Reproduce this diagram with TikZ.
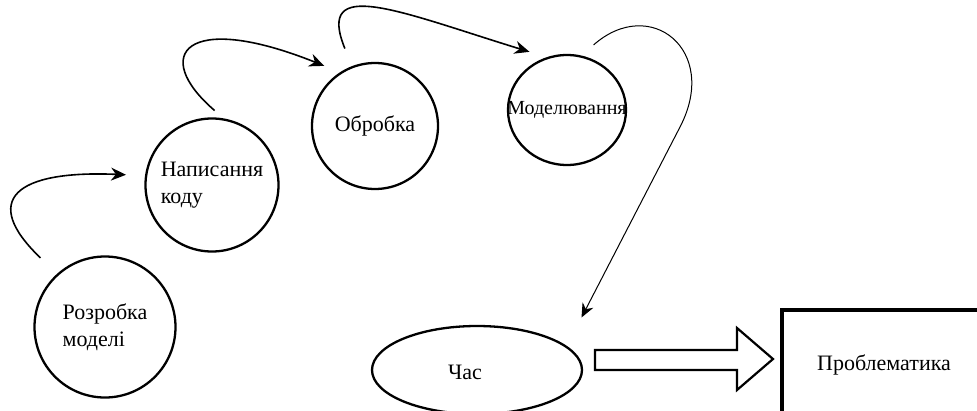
\documentclass[tikz,border=0pt]{standalone}
\usepackage{fontspec}
\setmainfont{Liberation Serif}
\usetikzlibrary{arrows.meta, shapes.geometric}
\tikzset{stagenode/.style={circle, draw=black, line width=2.3pt, inner sep=0pt, align=left, font=\fontsize{22}{27}\selectfont},
timenode/.style={ellipse, draw=black, line width=2.3pt, inner sep=0pt, font=\fontsize{22}{27}\selectfont},
problemnode/.style={rectangle, draw=black, line width=4pt, anchor=north west, font=\fontsize{22}{27}\selectfont},
curvedarrow/.style={-{Stealth[length=15pt, width=13pt]}, line width=1.6pt},
thinarrow/.style={-{Stealth[length=14pt, width=12pt]}, line width=1pt},
blockarrow/.style={draw=black, line width=2.2pt, line join=miter}}

\begin{document}
\begin{tikzpicture}[x=1pt, y=-1pt]
        % Frame
        \useasboundingbox (0,0) rectangle (977,410);
        \clip (0,0) rectangle (977,410);
        % Stages
        \node[stagenode, minimum size=141pt] (dev) at (105,327) {Розробка\\моделі};
        \node[stagenode, minimum size=133pt] (code) at (212,185) {Написання\\коду};
        \node[stagenode, minimum size=126pt] (proc) at (375,126) {Обробка};
        \node[stagenode, ellipse, minimum width=118pt, minimum height=110pt, label={[font=\fontsize{20}{24}\selectfont]center:Моделювання}] (model) at (567,110) {};
        \node[timenode, minimum width=210pt, minimum height=88pt, label={[xshift=-12pt, yshift=-2pt, font=\fontsize{22}{27}\selectfont]center:Час}] (time) at (477,370) {};
        \node[problemnode, minimum width=204pt, minimum height=110pt] (problem) at (780,308) {Проблематика};
        \coordinate (bend) at (680,127);
        % Curved arrows
        \draw[curvedarrow, shorten <=23pt, shorten >=19pt] (dev.132) .. controls (-20,200) and (15,170) .. (code.172);
        \draw[curvedarrow, shorten <=12pt, shorten >=17pt] (code.80) .. controls (150,55) and (185,10) .. (proc.123);
        \draw[curvedarrow, shorten <=19pt, shorten >=18pt] (proc.111.5) .. controls (315,-25) and (400,12) .. (model.111);
        \draw[thinarrow, shorten <=16pt, shorten >=32pt] (model.75) .. controls (650,-5) and (720,50) .. (bend) -- (time.15);
        % Block arrow
        \draw[blockarrow] (595,350) -- (737,350) -- (737,328) -- (773,359) -- (737,390) -- (737,370) -- (595,370) -- cycle;
\end{tikzpicture}
\end{document}
